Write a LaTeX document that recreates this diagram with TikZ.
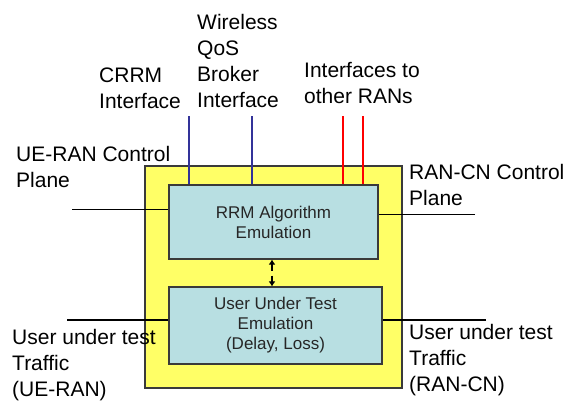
\documentclass[tikz,border=0pt]{standalone}
\usepackage{fontspec}
\setmainfont{Liberation Sans}
\usetikzlibrary{arrows.meta}
\definecolor{boxyellow}{HTML}{FFFF66}
\definecolor{boxblue}{HTML}{B8DFE2}
\definecolor{edgegray}{HTML}{3A3A3A}
\definecolor{ifblue}{HTML}{333399}
\definecolor{ifred}{HTML}{FF0000}
\tikzset{
  frame/.style={draw=edgegray, line width=1.2pt, fill=boxyellow, inner sep=0pt},
  unit/.style={draw=edgegray, line width=1.2pt, fill=boxblue, inner sep=0pt,
    align=center, font=\fontsize{17}{20}\selectfont, text=black!85},
  % anchored at the baseline of the last line
  lbl/.style={anchor=base west, inner sep=0pt, align=left,
    font=\fontsize{21}{25.8}\selectfont},
  blueif/.style={draw=ifblue, line width=2pt},
  redif/.style={draw=ifred, line width=2pt},
  ctrl/.style={draw=black, line width=0.9pt},
  traffic/.style={draw=black, line width=2.6pt},
  link/.style={draw=black, line width=2.3pt, dash pattern=on 6.5pt off 5pt on 30pt off 0pt,
    {Latex[length=5pt,width=7pt]}-{Latex[length=5pt,width=7pt]}},
}
\begin{document}
\begin{tikzpicture}[x=1pt,y=-1pt]
\useasboundingbox (0,0) rectangle (569,400);

% enclosing emulator frame
\node[frame, minimum width=257pt, minimum height=222pt] (frame) at (273.5,277) {};

% free ends of the external interfaces
\coordinate (crrm) at (189,116);
\coordinate (qos) at (252,116);
\coordinate (ranA) at (343,116);
\coordinate (ranB) at (363,116);
\coordinate (ueCtl) at (72,209);
\coordinate (cnCtl) at (475,214);
\coordinate (ueTr) at (67,320);
\coordinate (cnTr) at (486,320);

% external interface lines (drawn before the units so they end at the unit edges)
\draw[blueif] (crrm) -- (crrm |- 0,185);
\draw[blueif] (qos) -- (qos |- 0,185);
\draw[redif] (ranA) -- (ranA |- 0,185);
\draw[redif] (ranB) -- (ranB |- 0,185);
\draw[ctrl] (ueCtl) -- (ueCtl -| 169,0);
\draw[ctrl] (cnCtl) -- (cnCtl -| 378,0);
\draw[traffic] (ueTr) -- (ueTr -| 169,0);
\draw[traffic] (cnTr) -- (cnTr -| 382,0);

% functional units
\node[unit, minimum width=209pt, minimum height=74pt] (rrm) at (273.5,222)
  {RRM Algorithm\\Emulation};
\node[unit, minimum width=213pt, minimum height=77pt] (uut) at (275.5,325.5)
  {User Under Test\\Emulation\\(Delay, Loss)};

\draw[link] ([xshift=-1.5pt]rrm.south) -- ([xshift=-1.5pt]rrm.south |- uut.north);

% labels
\node[lbl] (lcrrm) at (99,108) {CRRM\\Interface};
\node[lbl] (lqos) at (197,107) {Wireless\\QoS\\Broker\\Interface};
\node[lbl] (lran) at (304,103) {Interfaces to\\other RANs};
\node[lbl] (lue) at (16,187) {UE-RAN Control\\Plane};
\node[lbl] (lcn) at (409,205) {RAN-CN Control\\Plane};
\node[lbl] (luetr) at (12,396) {User under test\\Traffic\\(UE-RAN)};
\node[lbl] (lcntr) at (409,391) {User under test\\Traffic\\(RAN-CN)};
\end{tikzpicture}
\end{document}
